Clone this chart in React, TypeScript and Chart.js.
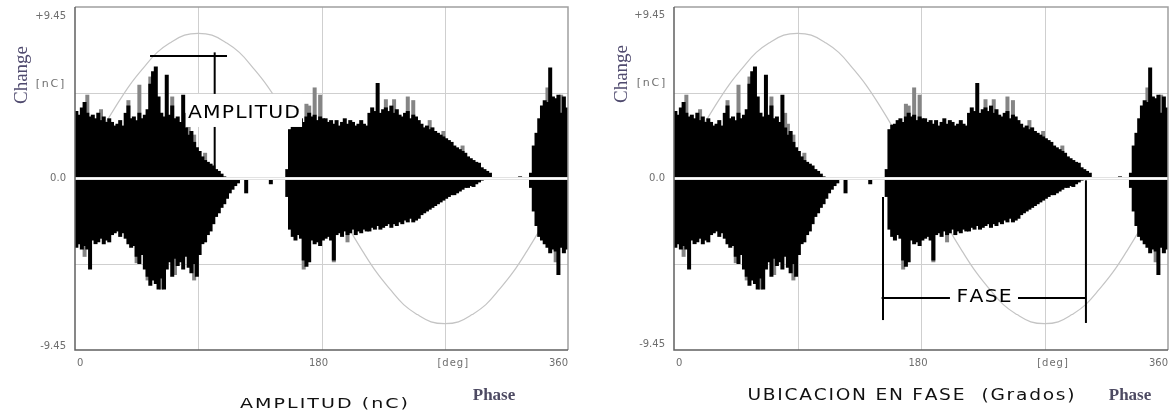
import React, { useEffect, useRef } from "react";
import { Chart, registerables } from "chart.js";

Chart.register(...registerables);

// ---------- data (phase bins of 2 degrees, charge in nC) ----------
const BIN_DEG = 2;

const posBlack = [
  3.7, 3.5, 3.9, 4.2, 3.6, 3.4,
  3.5, 3.3, 3.6, 3.2, 3.4, 3.1, 3.3,
  3.1, 2.9, 3.0, 3.2, 2.9, 3.6, 4.0,
  3.3, 3.4, 3.2, 3.6, 3.3, 3.5,
  3.8, 5.2, 5.9, 6.15, 4.5,
  3.6, 3.4, 5.7, 3.5, 4.0, 3.3,
  3.4, 3.1, 4.6,
  2.8, 2.4, 2.6, 2.0, 1.7, 1.5,
  1.2, 1.0, 0.9, 0.8, 0.7,
  0.5, 0.4, 0.25, 0.1,
  0, 0, 0, 0, 0, 0, 0, 0, 0, 0, 0, 0, 0, 0, 0, 0, 0, 0, 0, 0, 0, 0,
  0.5,
  2.7, 2.95, 3.0,
  3.2, 3.3, 3.1, 3.4, 3.6,
  3.4, 3.5, 3.2, 3.4, 3.3,
  3.3, 3.1, 3.2, 3.0, 3.2, 2.9, 3.1, 3.3, 3.0, 3.2, 3.1, 2.9, 3.0, 3.2, 3.0, 2.9,
  3.6, 3.9, 3.7, 5.25,
  3.6, 3.8, 3.9, 3.7, 4.0, 3.6, 3.8, 3.5,
  3.4, 3.6, 3.7, 3.3, 3.5, 3.4, 3.2,
  3.0, 2.8, 2.9, 2.7, 2.8, 2.6,
  2.5, 2.4, 2.3, 2.2, 2.1, 2.0,
  1.8, 1.7, 1.6, 1.5, 1.4,
  1.2, 1.1, 1.0, 0.9, 0.85,
  0.6, 0.5, 0.4, 0.3,
  0, 0, 0, 0, 0, 0, 0, 0, 0, 0, 0.1, 0, 0, 0,
  0.3,
  1.8, 2.5, 3.3, 4.0,
  4.3, 4.2, 6.1, 4.5, 4.4,
  4.6, 3.6, 4.5, 3.9,
];

const negBlack = [
  -3.8, -3.6, -3.9, -3.7, -3.9, -5.0,
  -3.4, -3.6, -3.5, -3.3, -3.6, -3.4, -3.5,
  -3.1, -3.0, -2.9, -3.2, -3.0,
  -3.3, -3.6, -3.8, -3.7, -4.3,
  -4.7, -4.2, -5.0, -5.4, -5.9,
  -5.6, -5.8, -6.1, -5.5, -6.1,
  -5.0, -4.6, -5.4, -4.4, -4.8,
  -4.6, -5.0, -4.3, -4.9, -5.2, -4.7, -5.4,
  -4.2, -3.6, -3.5, -3.1, -2.9,
  -2.5, -2.1, -1.9, -1.6, -1.4,
  -1.1, -0.8, -0.6, -0.4, -0.25,
  0, 0, -0.8, 0, 0, 0, 0, 0, 0, 0, 0, -0.3, 0, 0, 0, 0, 0,
  -1.0, -2.8, -3.2, -3.4, -3.1, -3.3,
  -4.5, -4.85, -4.6,
  -3.4, -3.6, -3.5, -3.7, -3.4,
  -3.3, -3.2, -3.4, -4.5, -3.1, -3.0, -3.2, -2.9, -3.1, -3.0, -2.8, -3.1, -2.9, -3.0, -2.8, -2.9,
  -2.9, -2.7, -2.8, -2.6, -2.8, -2.7, -2.6, -2.5, -2.7, -2.5, -2.6, -2.4, -2.5, -2.3, -2.4, -2.2, -2.4, -2.3, -2.2,
  -2.0, -1.9, -1.8, -1.7, -1.6, -1.5, -1.4, -1.3, -1.2,
  -1.1, -1.0, -0.9, -0.9, -0.8, -0.7, -0.6, -0.5,
  -0.5, -0.4, -0.45, -0.3, -0.2, -0.1, 0,
  0, 0, 0, 0, 0, 0, 0, 0, 0, 0, 0, 0, 0, 0, 0, 0,
  -0.5, -1.8, -2.6, -3.2, -3.4, -3.6, -3.8, -4.1, -3.9, -4.0, -5.3, -3.8, -4.1, -3.9,
];

// lighter (grey) peaks poking out above / below the black mass
const grayPosBins = [4, 9, 19, 23, 27, 35, 40, 41, 43, 47, 84, 85, 87, 89, 113, 116, 121, 123, 129, 134, 141, 172, 177];
const grayPosVals = [4.6, 3.8, 4.3, 5.15, 5.6, 4.5, 3.6, 3.0, 2.4, 1.4, 4.1, 4.0, 5.0, 4.6, 4.35, 4.35, 4.5, 4.3, 3.2, 2.6, 1.8, 5.0, 4.6];
const grayNegBins = [3, 22, 26, 31, 36, 43, 83, 94, 99, 175];
const grayNegVals = [-4.3, -4.65, -5.6, -6.1, -5.3, -5.6, -5.0, -4.6, -3.5, -4.6];

// reference voltage sine (scaled), read every 10 degrees
const sineDeg = [0, 10, 20, 30, 40, 50, 60, 70, 80, 90, 100, 110, 120, 130, 140, 150, 160, 170, 180,
  190, 200, 210, 220, 230, 240, 250, 260, 270, 280, 290, 300, 310, 320, 330, 340, 350, 360];
const sineVals = [0, 1.4, 2.75, 4.0, 5.15, 6.1, 6.95, 7.5, 7.9, 8.0, 7.9, 7.5, 6.95, 6.1, 5.15, 4.0, 2.75, 1.4, 0,
  -1.4, -2.75, -4.0, -5.15, -6.1, -6.95, -7.5, -7.9, -8.0, -7.9, -7.5, -6.95, -6.1, -5.15, -4.0, -2.75, -1.4, 0];

const yTickVals = [9.45, 0, -9.45];
const yTickLabels = ["+9.45", "0.0", "-9.45"];
const xTickVals = [0, 180, 270, 360];
const xTickLabels = ["0", "180", "[deg]", "360"];
const gridDeg = [90, 180, 270];
const gridCharge = [4.725, -4.725];

const Y_MAX = 9.45;

// ---------- panel configs ----------
type Panel = {
  left: number;
  pad: { left: number; right: number; top: number; bottom: number };
  change: [number, number];
  nc: [number, number];
  phase: [number, number];
  title: string;
  titleX: number;
  titleY: number;
  titleSize: number;
  titleWidth: number;
  yTopOff: number;
  yBotOff: number;
  kind: "amp" | "fase";
};

const panels: Panel[] = [
  {
    left: 0,
    pad: { left: 75, right: 17, top: 7, bottom: 68 },
    change: [22, 75],
    nc: [50, 84],
    phase: [494, 396],
    title: "AMPLITUD (nC)",
    titleX: 324,
    titleY: 404,
    titleSize: 14,
    titleWidth: 168,
    yTopOff: 9,
    yBotOff: -4,
    kind: "amp",
  },
  {
    left: 585,
    pad: { left: 89, right: 2, top: 7, bottom: 68 },
    change: [37, 74],
    nc: [66, 83],
    phase: [545, 396],
    title: "UBICACION EN FASE  (Grados)",
    titleX: 326,
    titleY: 396,
    titleSize: 16,
    titleWidth: 327,
    yTopOff: 8,
    yBotOff: -6,
    kind: "fase",
  },
];

function drawSpaced(ctx: CanvasRenderingContext2D, text: string, cx: number, cy: number, spacing: number) {
  const widths = Array.from(text).map((c) => ctx.measureText(c).width);
  const total = widths.reduce((a, b) => a + b, 0) + spacing * (text.length - 1);
  let x = cx - total / 2;
  ctx.textAlign = "left";
  ctx.textBaseline = "middle";
  Array.from(text).forEach((c, i) => {
    ctx.fillText(c, x, cy);
    x += widths[i] + spacing;
  });
  return total;
}

// draws text centred at (cx, cy), stretched horizontally to the target width
function drawFit(ctx: CanvasRenderingContext2D, text: string, cx: number, cy: number, target: number, spacing: number) {
  const w = Array.from(text).reduce((a, c) => a + ctx.measureText(c).width, 0) + spacing * (text.length - 1);
  const s = target / w;
  ctx.save();
  ctx.translate(cx, cy);
  ctx.scale(s, 1);
  drawSpaced(ctx, text, 0, 0, spacing);
  ctx.restore();
}

function makeDecor(cfg: Panel) {
  return {
    id: "decor",
    beforeDatasetsDraw(chart: any) {
      const { ctx, chartArea: a, scales } = chart;
      const xs = scales.x;
      const ys = scales.y;
      ctx.save();
      ctx.strokeStyle = "#cfcfcf";
      ctx.lineWidth = 1;
      gridDeg.forEach((g) => {
        const px = Math.round(xs.getPixelForValue(g)) + 0.5;
        ctx.beginPath();
        ctx.moveTo(px, a.top);
        ctx.lineTo(px, a.bottom);
        ctx.stroke();
      });
      gridCharge.forEach((g) => {
        const py = Math.round(ys.getPixelForValue(g)) + 0.5;
        ctx.beginPath();
        ctx.moveTo(a.left, py);
        ctx.lineTo(a.right, py);
        ctx.stroke();
      });
      ctx.restore();
    },
    afterDatasetsDraw(chart: any) {
      const { ctx, chartArea: a, scales } = chart;
      const xs = scales.x;
      const ys = scales.y;
      const X = (v: number) => xs.getPixelForValue(v);
      const Y = (v: number) => ys.getPixelForValue(v);
      ctx.save();

      // zero line
      const y0 = Y(0);
      ctx.strokeStyle = "#dadada";
      ctx.lineWidth = 3;
      ctx.beginPath();
      ctx.moveTo(a.left, y0);
      ctx.lineTo(a.right, y0);
      ctx.stroke();
      ctx.strokeStyle = "#ffffff";
      ctx.lineWidth = 1.6;
      ctx.beginPath();
      ctx.moveTo(a.left, y0);
      ctx.lineTo(a.right, y0);
      ctx.stroke();

      // frame
      ctx.lineWidth = 1.5;
      ctx.strokeStyle = "#a0a0a0";
      ctx.beginPath();
      ctx.moveTo(a.left, a.top);
      ctx.lineTo(a.right, a.top);
      ctx.lineTo(a.right, a.bottom);
      ctx.stroke();
      ctx.strokeStyle = "#606060";
      ctx.beginPath();
      ctx.moveTo(a.left, a.top);
      ctx.lineTo(a.left, a.bottom);
      ctx.lineTo(a.right, a.bottom);
      ctx.stroke();

      // annotations
      ctx.strokeStyle = "#000";
      ctx.fillStyle = "#000";
      ctx.lineWidth = 2;
      const seg = (x1: number, y1: number, x2: number, y2: number) => {
        ctx.beginPath();
        ctx.moveTo(x1, y1);
        ctx.lineTo(x2, y2);
        ctx.stroke();
      };
      if (cfg.kind === "amp") {
        seg(X(54.8), Y(6.75), X(111), Y(6.75));
        seg(X(102), Y(6.95), X(102), Y(0.19));
        ctx.fillStyle = "#fff";
        ctx.fillRect(X(81), Y(4.66), X(165.8) - X(81), Y(2.84) - Y(4.66));
        ctx.fillStyle = "#000";
        ctx.font = '18px "DejaVu Sans"';
        drawFit(ctx, "AMPLITUD", X(123.4), Y(3.6), 112, 1);
      } else {
        const hy = Y(-6.58);
        seg(X(152.3), Y(-1.02), X(152.3), Y(-7.8));
        seg(X(300.2), Y(-0.1), X(300.2), Y(-7.96));
        seg(X(151.3), hy, X(201.1), hy);
        seg(X(250.7), hy, X(300.2), hy);
        ctx.font = '17px "DejaVu Sans"';
        drawFit(ctx, "FASE", X(226), hy, 55, 1);
      }
      ctx.restore();
    },
    afterDraw(chart: any) {
      const { ctx, chartArea: a, scales } = chart;
      const xs = scales.x;
      const ys = scales.y;
      ctx.save();
      // y tick labels
      ctx.fillStyle = "#6e6e6e";
      ctx.font = '10px "DejaVu Sans"';
      ctx.textAlign = "right";
      ctx.textBaseline = "middle";
      yTickVals.forEach((v, i) => {
        let py = ys.getPixelForValue(v);
        if (i === 0) py += cfg.yTopOff;
        if (i === yTickVals.length - 1) py += cfg.yBotOff;
        ctx.fillText(yTickLabels[i], a.left - 9, py);
      });
      // x tick labels
      const ly = a.bottom + 13;
      xTickVals.forEach((v, i) => {
        const px = xs.getPixelForValue(v);
        const lab = xTickLabels[i];
        if (i === 0) {
          ctx.textAlign = "left";
          ctx.fillText(lab, px + 2, ly);
        } else if (i === xTickVals.length - 1) {
          ctx.textAlign = "right";
          ctx.fillText(lab, px, ly);
        } else if (lab === "[deg]") {
          drawSpaced(ctx, lab, px + 8, ly, 1);
        } else {
          ctx.textAlign = "center";
          ctx.fillText(lab, px - 3, ly);
        }
      });
      // [nC]
      ctx.font = '11px "DejaVu Sans"';
      drawSpaced(ctx, "[nC]", cfg.nc[0], cfg.nc[1], 1.8);
      // Change (rotated)
      ctx.save();
      ctx.translate(cfg.change[0], cfg.change[1]);
      ctx.rotate(-Math.PI / 2);
      ctx.fillStyle = "#4f4a6e";
      ctx.font = '19px "Liberation Serif"';
      ctx.textAlign = "center";
      ctx.textBaseline = "middle";
      ctx.fillText("Change", 0, 0);
      ctx.restore();
      // Phase
      ctx.fillStyle = "#4d4a62";
      ctx.font = 'bold 17px "Liberation Serif"';
      ctx.textAlign = "center";
      ctx.textBaseline = "middle";
      ctx.fillText("Phase", cfg.phase[0], cfg.phase[1]);
      // bottom title
      ctx.fillStyle = "#111";
      ctx.font = `${cfg.titleSize}px "DejaVu Sans"`;
      drawFit(ctx, cfg.title, cfg.titleX, cfg.titleY, cfg.titleWidth, 1.5);
      ctx.restore();
    },
  };
}

function PanelChart({ cfg }: { cfg: Panel }) {
  const ref = useRef<HTMLCanvasElement | null>(null);
  useEffect(() => {
    const canvas = ref.current;
    if (!canvas) return;
    const black = posBlack
      .map((p, i) => ({ x: i * BIN_DEG + BIN_DEG / 2, y: [negBlack[i], p] }))
      .filter((d) => d.y[0] !== 0 || d.y[1] !== 0);
    const grayPos = grayPosBins.map((b, i) => ({ x: b * BIN_DEG + BIN_DEG / 2, y: [0, grayPosVals[i]] }));
    const grayNeg = grayNegBins.map((b, i) => ({ x: b * BIN_DEG + BIN_DEG / 2, y: [grayNegVals[i], 0] }));
    const sine = sineDeg.map((d, i) => ({ x: d, y: sineVals[i] }));

    const barCommon = {
      borderWidth: 0,
      barThickness: 3.4,
      grouped: false,
      inflateAmount: 0.3,
    };

    const chart = new Chart(canvas, {
      type: "bar",
      data: {
        datasets: [
          {
            type: "line",
            data: sine as any,
            borderColor: "#c4c4c4",
            borderWidth: 1.2,
            pointRadius: 0,
            tension: 0.4,
            order: 4,
          } as any,
          { ...barCommon, data: grayPos as any, backgroundColor: "#858585", order: 3 } as any,
          { ...barCommon, data: grayNeg as any, backgroundColor: "#858585", order: 2 } as any,
          { ...barCommon, data: black as any, backgroundColor: "#000000", order: 1 } as any,
        ],
      },
      options: {
        responsive: false,
        animation: false,
        devicePixelRatio: 1,
        layout: { padding: cfg.pad },
        plugins: { legend: { display: false }, tooltip: { enabled: false } },
        events: [],
        scales: {
          x: { type: "linear", min: 0, max: 360, display: false, offset: false },
          y: { type: "linear", min: -Y_MAX, max: Y_MAX, display: false },
        },
      } as any,
      plugins: [makeDecor(cfg)],
    });
    return () => chart.destroy();
  }, [cfg]);
  return (
    <canvas
      ref={ref}
      width={585}
      height={418}
      style={{ position: "absolute", left: cfg.left, top: 0, width: 585, height: 418 }}
    />
  );
}

export default function App() {
  return (
    <div style={{ position: "fixed", left: 0, top: 0, width: 1170, height: 418, background: "#fff", overflow: "hidden" }}>
      {panels.map((p, i) => (
        <PanelChart key={i} cfg={p} />
      ))}
    </div>
  );
}
